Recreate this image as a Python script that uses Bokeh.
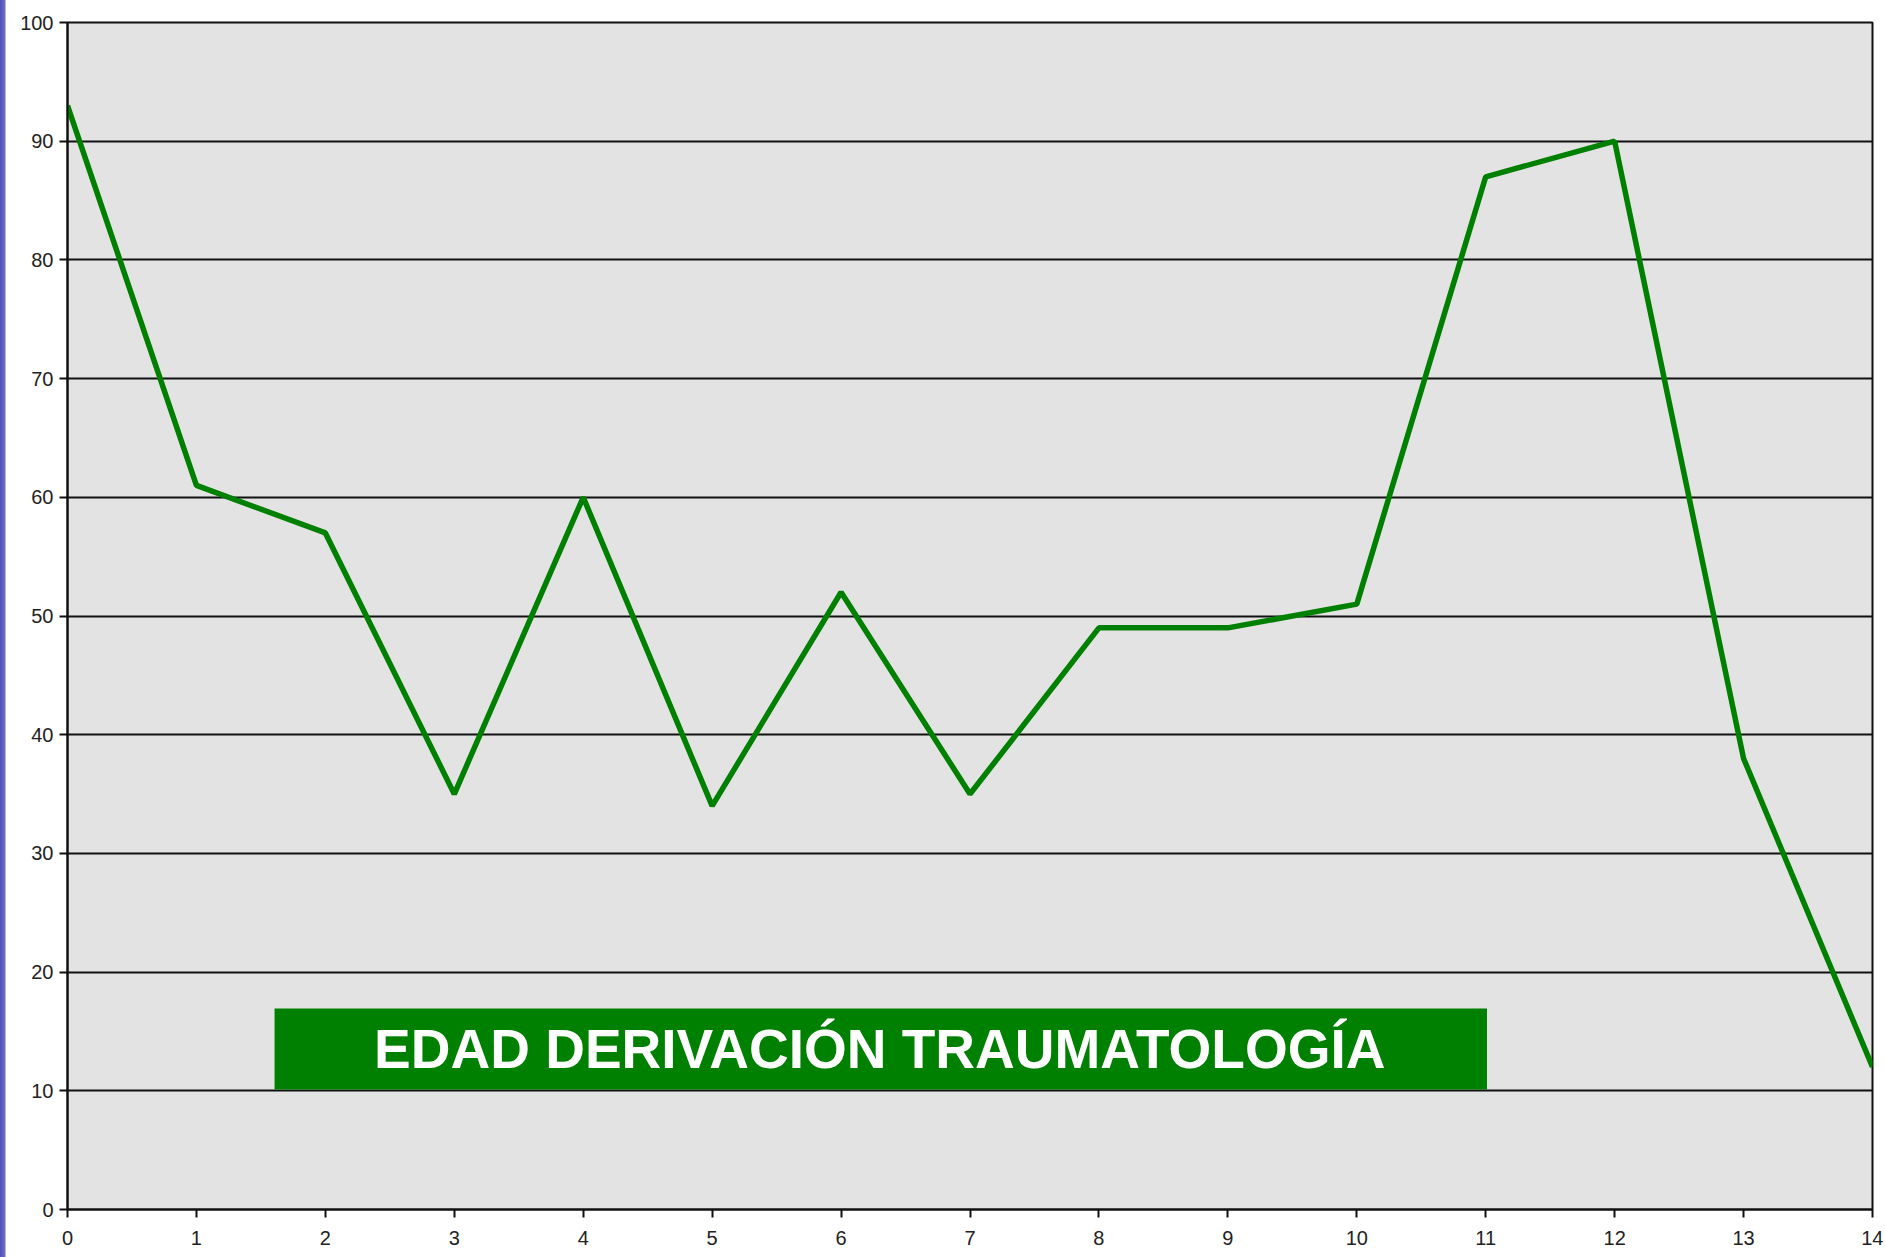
from bokeh.plotting import figure
from bokeh.models import BoxAnnotation, Label, FixedTicker, Range1d
from bokeh.embed import file_html
from bokeh.resources import INLINE

x_vals = [0, 1, 2, 3, 4, 5, 6, 7, 8, 9, 10, 11, 12, 13, 14]
y_vals = [93, 61, 57, 35, 60, 34, 52, 35, 49, 49, 51, 87, 90, 38, 12]
y_ticks = [0, 10, 20, 30, 40, 50, 60, 70, 80, 90, 100]
title_text = "EDAD DERIVACIÓN TRAUMATOLOGÍA"

p = figure(width=1883, height=1255, output_backend="svg", toolbar_location=None,
           x_range=Range1d(0, 14), y_range=Range1d(0, 100),
           min_border_left=67, min_border_right=11, min_border_top=22, min_border_bottom=46)
p.background_fill_color = "#e3e3e3"
p.border_fill_color = None
p.outline_line_color = "#111111"
p.outline_line_width = 2

p.xgrid.grid_line_color = None
p.ygrid.grid_line_color = "#111111"
p.ygrid.grid_line_width = 2

for ax in (p.xaxis, p.yaxis):
    ax.axis_line_color = "#111111"
    ax.axis_line_width = 2
    ax.major_tick_line_color = "#111111"
    ax.major_tick_line_width = 2
    ax.major_tick_in = 0
    ax.major_tick_out = 8
    ax.minor_tick_line_color = None
    ax.major_label_text_font = "Liberation Sans"
    ax.major_label_text_font_size = "20px"
    ax.major_label_text_color = "#222222"
    ax.major_label_standoff = 6

p.xaxis.major_label_standoff = 13
p.xaxis.ticker = FixedTicker(ticks=x_vals)
p.yaxis.ticker = FixedTicker(ticks=y_ticks)

p.line(x_vals, y_vals, line_color="#008000", line_width=5.5)

box = BoxAnnotation(left=1.606, right=11.01, bottom=10.1, top=16.93,
                    fill_color="#008000", fill_alpha=1.0, line_color=None)
p.add_layout(box)
lbl = Label(x=6.3, y=13.5, text=title_text, text_align="center", text_baseline="middle",
            text_color="white", text_font="Liberation Sans", text_font_style="bold",
            text_font_size="55px")
p.add_layout(lbl)

html = file_html(p, INLINE)
style = ("<style>html, body { background: linear-gradient(to right, #4f4fb5 0px, #6c6cc8 5px, "
         "#ffffff 6px) !important; }</style></head>")
html = html.replace("</head>", style, 1)
open("out.html", "w").write(html)
